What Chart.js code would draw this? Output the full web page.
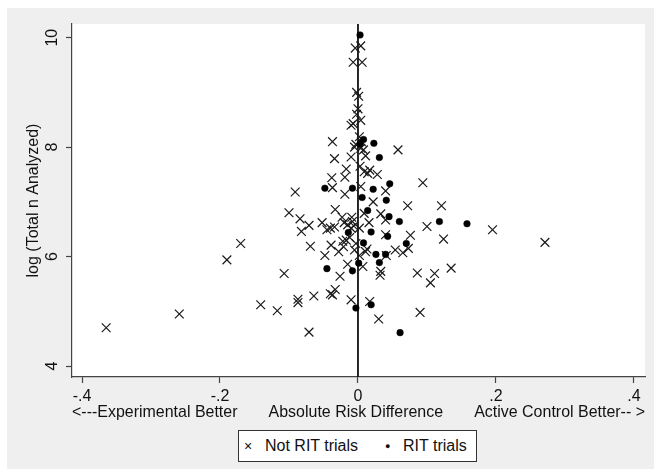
<!DOCTYPE html>
<html>
<head>
<meta charset="utf-8">
<script src="https://cdn.jsdelivr.net/npm/chart.js@4.4.0/dist/chart.umd.min.js"></script>
<style>
html,body{margin:0;padding:0;background:#fff;}
#wrap{position:relative;width:654px;height:469px;overflow:hidden;}
#c{position:absolute;left:0;top:0;}
#legend{position:absolute;left:238px;top:430px;width:237px;height:30px;border:1px solid #333;background:#fff;
  font-family:"Liberation Sans",Arial,sans-serif;font-size:16px;color:#111;}
#legend span{position:absolute;top:0;line-height:30px;white-space:nowrap;}
</style>
</head>
<body>
<div id="wrap">
<canvas id="c" width="654" height="469"></canvas>
<div id="legend">
  <span style="left:5px;font-size:14px;">×</span>
  <span style="left:26px;">Not RIT trials</span>
  <span style="left:146px;font-size:9px;">●</span>
  <span style="left:164px;">RIT trials</span>
</div>
</div>
<script>
// ---- data ----
const notRitX = [-0.004,0.004,-0.007,0.006,-0.002,0.001,0.000,-0.002,0.004,-0.007,-0.010,
  -0.037,-0.003,0.002,0.004,0.011,0.058,-0.005,-0.034,-0.010,-0.017,0.003,0.009,0.017,0.028,0.014,
  -0.038,-0.019,0.094,-0.037,0.004,0.040,-0.019,-0.091,0.022,0.072,0.121,-0.100,-0.033,0.009,0.033,
  -0.084,-0.023,-0.009,0.016,0.040,-0.052,-0.071,0.100,0.195,-0.082,-0.045,-0.034,-0.040,-0.015,
  -0.010,0.002,-0.020,0.271,0.124,0.076,0.040,-0.017,-0.012,-0.022,-0.069,-0.039,-0.021,-0.028,
  -0.048,-0.005,0.011,0.054,0.065,0.073,0.041,-0.170,-0.190,-0.015,0.007,0.033,0.032,0.135,0.086,
  0.111,0.105,-0.026,-0.107,-0.033,-0.037,-0.040,-0.064,-0.087,-0.087,-0.141,-0.117,-0.010,0.017,
  0.030,0.090,-0.071,-0.259,-0.365,0.005,0.008,-0.006,-0.003,0.002,-0.008,0.013];
const notRitY = [9.81,9.85,9.55,9.55,9.00,8.93,8.70,8.60,8.49,8.43,8.40,
  8.10,8.05,8.19,7.98,7.84,7.95,8.00,7.79,7.82,7.60,7.65,7.55,7.58,7.50,7.52,
  7.44,7.45,7.35,7.26,7.28,7.20,7.14,7.18,7.00,6.93,6.93,6.80,6.86,6.79,6.78,
  6.69,6.72,6.72,6.62,6.67,6.62,6.57,6.55,6.49,6.46,6.49,6.54,6.52,6.58,
  6.52,6.52,6.62,6.26,6.32,6.39,6.40,6.30,6.35,6.28,6.19,6.21,6.18,6.09,
  6.02,6.12,6.09,6.12,6.07,6.15,6.02,6.24,5.94,5.86,5.82,5.73,5.66,5.79,5.70,
  5.69,5.52,5.64,5.69,5.40,5.30,5.32,5.28,5.22,5.16,5.12,5.01,5.21,5.18,
  4.86,4.98,4.62,4.95,4.70,8.10,7.95,6.56,6.24,6.02,6.64,6.14];
const ritX = [0.003,0.008,0.003,0.023,0.031,-0.048,-0.008,0.046,0.022,0.006,0.041,0.014,0.045,
  0.060,0.118,0.158,-0.014,0.019,0.043,0.008,0.070,0.026,0.040,0.031,0.001,-0.045,-0.008,
  0.019,-0.003,0.061];
const ritY = [10.05,8.14,8.06,8.07,7.81,7.25,7.25,7.33,7.23,7.08,7.03,6.84,6.73,
  6.64,6.64,6.60,6.44,6.45,6.37,6.25,6.24,6.04,6.04,5.89,5.88,5.78,5.74,
  5.12,5.06,4.61];
const xTicks = [-0.4,-0.2,0,0.2,0.4];
const xTickLabels = ['-.4','-.2','0','.2','.4'];
const yTicks = [4,6,8,10];
const yTickLabels = ['4','6','8','10'];
const xRange = [-0.4145, 0.416];
const yRange = [3.8, 10.25];
const seriesNames = ['Not RIT trials','RIT trials'];
const xTitle = '<---Experimental Better       Absolute Risk Difference       Active Control Better-- >';
const yTitle = 'log (Total n Analyzed)';

const FAM = '"Liberation Sans", Arial, sans-serif';
const TXT = '#111';

const bgPlugin = {
  id: 'bg',
  beforeDraw(chart) {
    const ctx = chart.ctx, a = chart.chartArea;
    ctx.save();
    ctx.fillStyle = '#fff';
    ctx.fillRect(0, 0, chart.width, chart.height);
    ctx.fillStyle = '#efefef';
    ctx.fillRect(7, 8, chart.width - 7, chart.height - 8);
    ctx.fillStyle = '#fff';
    ctx.fillRect(a.left, a.top, a.right - a.left, a.bottom - a.top);
    ctx.restore();
  }
};
const yLabelPlugin = {
  id: 'ylab',
  afterDraw(chart) {
    const s = chart.scales.y, ctx = chart.ctx;
    ctx.save();
    ctx.font = '16px ' + FAM;
    ctx.fillStyle = TXT;
    ctx.textAlign = 'center';
    ctx.textBaseline = 'middle';
    s.ticks.forEach((t, i) => {
      const py = s.getPixelForValue(t.value);
      ctx.save();
      ctx.translate(53, py);
      ctx.rotate(-Math.PI / 2);
      ctx.fillText(yTickLabels[i], 0, 0);
      ctx.restore();
    });
    ctx.restore();
  }
};

new Chart(document.getElementById('c'), {
  type: 'scatter',
  data: {
    datasets: [
      {
        label: seriesNames[0],
        data: notRitX.map((x, i) => ({x: x, y: notRitY[i]})),
        pointStyle: 'crossRot',
        pointRadius: 6.2,
        borderColor: '#1a1a1a',
        backgroundColor: 'rgba(0,0,0,0)',
        borderWidth: 1.2,
        order: 2
      },
      {
        label: seriesNames[1],
        data: ritX.map((x, i) => ({x: x, y: ritY[i]})),
        pointStyle: 'circle',
        pointRadius: 3.3,
        borderColor: '#000',
        backgroundColor: '#000',
        borderWidth: 0.5,
        order: 1
      },
      {
        type: 'line',
        label: 'zero',
        data: [{x: 0, y: yRange[0]}, {x: 0, y: yRange[1]}],
        borderColor: '#111',
        borderWidth: 1.8,
        pointRadius: 0,
        order: 3
      }
    ]
  },
  options: {
    responsive: false,
    animation: false,
    devicePixelRatio: 1,
    layout: {padding: {left: 24.4, top: 24, right: 9, bottom: 46.4}},
    plugins: {legend: {display: false}, tooltip: {enabled: false}},
    scales: {
      x: {
        type: 'linear',
        min: xRange[0], max: xRange[1],
        afterBuildTicks: s => { s.ticks = xTicks.map(v => ({value: v})); },
        afterFit: s => { s.height = 45.6; },
        ticks: {
          callback: (v, i) => xTickLabels[i],
          color: TXT, font: {size: 16, family: FAM},
          padding: 4, maxRotation: 0, minRotation: 0, autoSkip: false
        },
        grid: {display: true, drawOnChartArea: false, drawTicks: true, tickLength: 6, color: '#444', tickWidth: 1.2},
        border: {display: true, color: '#444', width: 1.2},
        title: {display: true, text: xTitle, color: TXT, font: {size: 16.2, family: FAM}, padding: 0}
      },
      y: {
        type: 'linear',
        min: yRange[0], max: yRange[1],
        afterBuildTicks: s => { s.ticks = yTicks.map(v => ({value: v})); },
        afterFit: s => { s.width = 47.6; },
        ticks: {color: 'rgba(0,0,0,0)', font: {size: 16, family: FAM}},
        grid: {display: true, drawOnChartArea: false, drawTicks: true, tickLength: 6, color: '#444', tickWidth: 1.2},
        border: {display: true, color: '#444', width: 1.2},
        title: {display: true, text: yTitle, color: TXT, font: {size: 16, family: FAM}, padding: 0}
      }
    }
  },
  plugins: [bgPlugin, yLabelPlugin]
});
</script>
</body>
</html>
